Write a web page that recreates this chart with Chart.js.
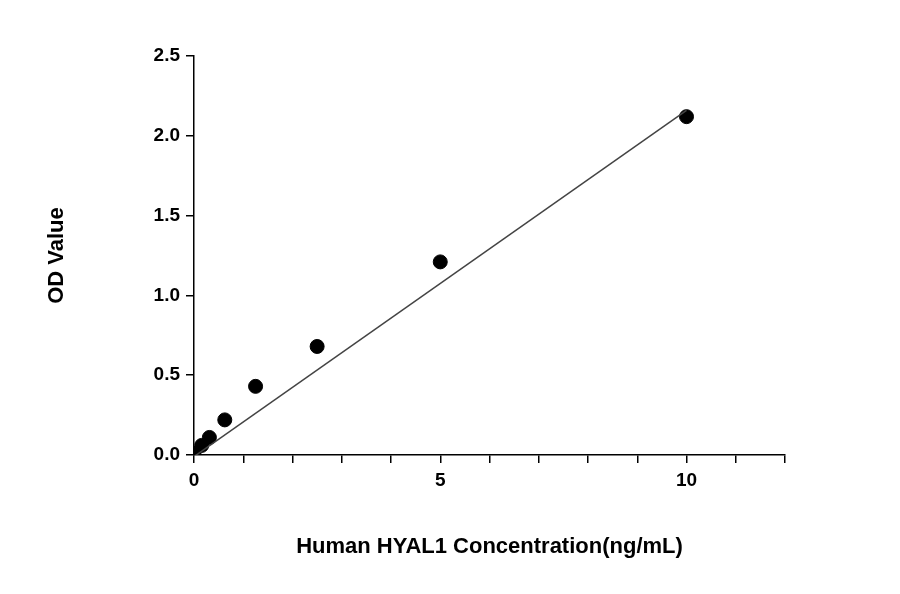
<!DOCTYPE html>
<html>
<head>
<meta charset="utf-8">
<script src="https://cdn.jsdelivr.net/npm/chart.js@4"></script>
<style>
  html, body { margin: 0; padding: 0; background: #fff; }
  #wrap { width: 900px; height: 594px; }
</style>
</head>
<body>
<div id="wrap"><canvas id="chart" width="900" height="594"></canvas></div>
<script>
const concentrations = [0, 0.156, 0.3125, 0.625, 1.25, 2.5, 5, 10];
const odValues = [0.01, 0.06, 0.11, 0.22, 0.43, 0.68, 1.21, 2.12];
const fitX = [0, 10];
const fitY = [-0.01, 2.16];
const xTickLabels = [0, 5, 10];

const pts = concentrations.map((x, i) => ({ x: x, y: odValues[i] }));
const fit = fitX.map((x, i) => ({ x: x, y: fitY[i] }));

const font = { family: "'Liberation Sans', Arial, sans-serif", weight: "bold" };

new Chart(document.getElementById("chart"), {
  type: "scatter",
  data: {
    datasets: [
      {
        type: "line",
        data: fit,
        borderColor: "#444",
        borderWidth: 1.5,
        pointRadius: 0,
        fill: false
      },
      {
        data: pts,
        backgroundColor: "#000",
        borderColor: "#000",
        pointRadius: 7
      }
    ]
  },
  options: {
    responsive: false,
    animation: false,
    layout: { padding: { left: 40, top: 56, right: 115, bottom: 30 } },
    plugins: { legend: { display: false }, tooltip: { enabled: false } },
    scales: {
      x: {
        min: 0,
        max: 12,
        grid: { drawOnChartArea: false, tickLength: 8, color: "#000", lineWidth: 1.5 },
        border: { color: "#000", width: 1.5 },
        ticks: {
          stepSize: 1,
          autoSkip: false,
          maxRotation: 0,
          padding: 6,
          color: "#000",
          font: { ...font, size: 19 },
          callback: v => xTickLabels.includes(v) ? String(v) : ""
        },
        title: {
          display: true,
          text: "Human HYAL1 Concentration(ng/mL)",
          color: "#000",
          font: { ...font, size: 22 },
          padding: { top: 10 }
        },
        afterFit: s => { s.height = 109; }
      },
      y: {
        min: 0,
        max: 2.5,
        grid: { drawOnChartArea: false, tickLength: 8, color: "#000", lineWidth: 1.5 },
        border: { color: "#000", width: 1.5 },
        ticks: {
          stepSize: 0.5,
          padding: 6,
          color: "#000",
          font: { ...font, size: 19 },
          callback: v => v.toFixed(1)
        },
        title: {
          display: true,
          text: "OD Value",
          color: "#000",
          font: { ...font, size: 22 },
          padding: { bottom: 28 }
        },
        afterFit: s => { s.width = 154; }
      }
    }
  }
});
</script>
</body>
</html>
